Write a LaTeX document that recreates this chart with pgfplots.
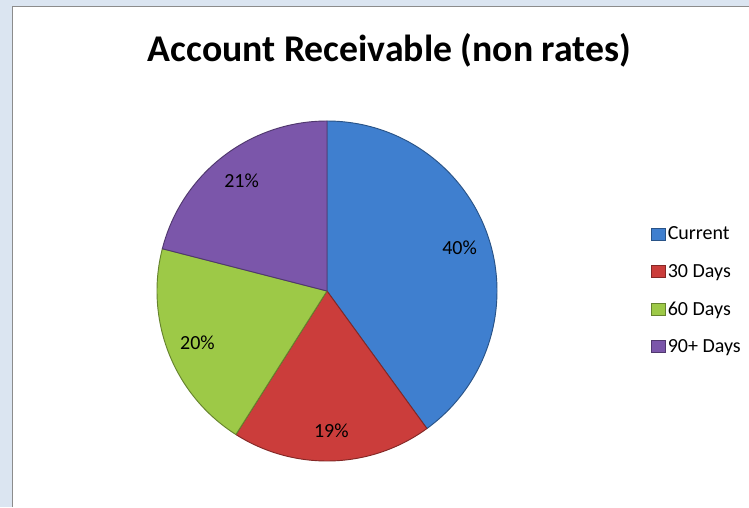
\documentclass[border=0pt]{standalone}
\usepackage{pgfplots}
\usepackage{pgfplotstable}
\pgfplotsset{compat=1.18}
\usepackage{fontspec}
\setmainfont{Carlito}

\definecolor{bgblue}{HTML}{DBE5F1}
\definecolor{frame}{HTML}{8C8C8C}
\definecolor{pie0}{HTML}{3F7FCF}
\definecolor{pie1}{HTML}{CB3D3B}
\definecolor{pie2}{HTML}{9DC947}
\definecolor{pie3}{HTML}{7B56AA}

% share of each category in percent
\pgfplotstableread{
label value
Current 40
{30 Days} 19
{60 Days} 20
{90+ Days} 21
}\piedata

\begin{document}
\begin{tikzpicture}
% axis in pixel units of the 749x507 reference, y measured from the top
\begin{axis}[
    width=561.75pt, height=380.25pt, scale only axis,
    xmin=0, xmax=749, ymin=0, ymax=507, y dir=reverse,
    hide axis,
    legend style={at={(axis cs:651,224)}, anchor=north west,
        draw=none, fill=none, font=\fontsize{15}{18}\selectfont,
        row sep=12.8pt, inner sep=0pt,
        legend cell align=left},
    legend image code/.code={\draw[#1] (0pt,-4.2pt) rectangle (10pt,4.8pt);},
]
\fill[bgblue] (axis cs:0,0) rectangle (axis cs:749,507);
\fill[white] (axis cs:12.5,6.5) rectangle (axis cs:749,507);
\draw[frame, line width=1.2pt] (axis cs:12.5,507) -- (axis cs:12.5,6.5) -- (axis cs:749,6.5);

\node[font=\fontsize{28.3}{32}\selectfont\bfseries] at (axis cs:389.5,50) {Account Receivable (non rates)};

\xdef\cumul{90}
\pgfplotsinvokeforeach{0,1,2,3}{
  \pgfplotstablegetelem{#1}{value}\of\piedata
  \pgfmathsetmacro\vv{\pgfplotsretval}
  \pgfmathsetmacro\aend{\cumul-3.6*\vv}
  \pgfmathsetmacro\amid{(\cumul+\aend)/2}
  \pgfmathsetmacro\sx{327+170*cos(\cumul)}
  \pgfmathsetmacro\sy{291-170*sin(\cumul)}
  \pgfmathsetmacro\lx{327+0.82*170*cos(\amid)}
  \pgfmathsetmacro\ly{291-0.82*170*sin(\amid)}
  \pgfmathtruncatemacro\vi{\vv}
  \edef\temp{%
    \noexpand\fill[pie#1, draw=pie#1!65!black, line width=0.7pt, line join=round]
      (axis cs:327,291) -- (axis cs:\sx,\sy)
      arc[start angle=\cumul, end angle=\aend, radius=127.5pt] -- cycle;
    \noexpand\node[font=\noexpand\fontsize{15}{18}\noexpand\selectfont]
      at (axis cs:\lx,\ly) {\vi\noexpand\%};
  }
  \temp
  \xdef\cumul{\aend}
}

\addlegendimage{fill=pie0, draw=pie0!65!black}
\addlegendentry{Current}
\addlegendimage{fill=pie1, draw=pie1!65!black}
\addlegendentry{30 Days}
\addlegendimage{fill=pie2, draw=pie2!65!black}
\addlegendentry{60 Days}
\addlegendimage{fill=pie3, draw=pie3!65!black}
\addlegendentry{90+ Days}
\end{axis}
\end{tikzpicture}
\end{document}
